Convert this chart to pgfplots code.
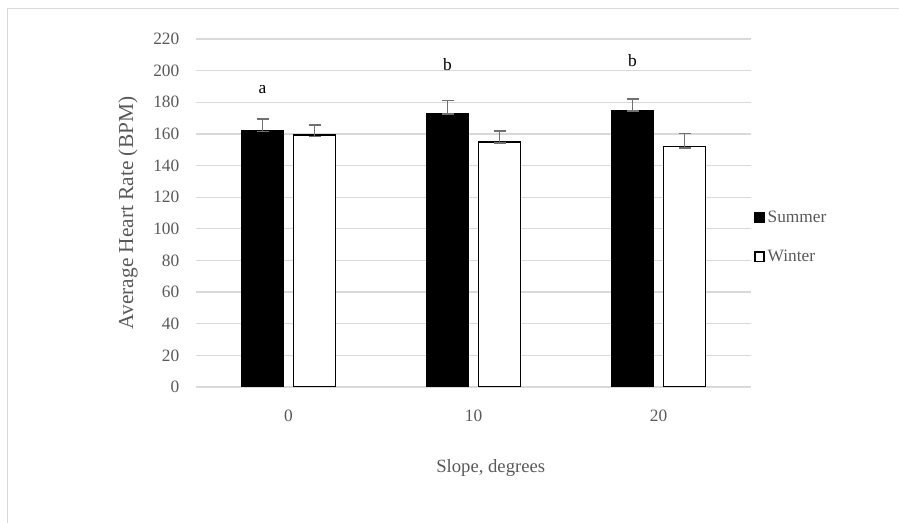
\documentclass[border=0pt]{standalone}
\usepackage{pgfplots}
\pgfplotsset{compat=1.18}
\usepackage{fontspec}
\setmainfont{Liberation Serif}
\definecolor{gridgray}{HTML}{D9D9D9}
\definecolor{txtgray}{HTML}{595959}
\definecolor{errgray}{HTML}{707070}
\begin{document}
\begin{tikzpicture}
\useasboundingbox (0pt,0pt) rectangle (674.25pt,392.25pt);
\begin{scope}
\clip (0pt,0pt) rectangle (674.25pt,392.25pt);
\draw[gridgray, line width=1.2pt] (5.6pt,-20pt) -- (5.6pt,385.9pt) -- (700pt,385.9pt);
\end{scope}
\begin{axis}[
  at={(147pt,102pt)}, anchor=south west,
  scale only axis, width=416.25pt, height=261pt,
  ymin=0, ymax=220, ytick={0,20,...,220},
  xmin=-0.5, xmax=2.5, xtick={0,1,2}, xticklabels={0,10,20},
  axis line style={draw=none}, major tick length=0pt,
  ymajorgrids, grid style={gridgray, line width=1pt},
  ticklabel style={font=\fontsize{13}{15}\selectfont, text=txtgray},
  /pgf/number format/assume math mode=true,
  yticklabel style={xshift=-9pt},
  xticklabel style={yshift=-14pt},
  ybar=7.5pt, bar width=31.5pt,
  every axis y label/.style={at={(rel axis cs:0,0.5)}, xshift=-51pt, rotate=90, anchor=center, font=\fontsize{16}{18}\selectfont, text=txtgray},
  every axis x label/.style={at={(rel axis cs:0.531,0)}, yshift=-60.75pt, anchor=center, font=\fontsize{14}{16}\selectfont, text=txtgray},
  ylabel={Average Heart Rate (BPM)},
  xlabel={Slope, degrees},
  legend style={at={(rel axis cs:1.005,0.43)}, anchor=west, draw=none, fill=none, inner xsep=0pt, font=\fontsize{13}{15}\selectfont, text=txtgray, row sep=15pt, legend cell align=left},
  legend image code/.code={\draw[#1, line width=1.2pt] (0pt,-3.5pt) rectangle (7pt,3.5pt);},
  error bars/y dir=both, error bars/y explicit,
  error bars/error bar style={errgray, line width=1.1pt},
  error bars/error mark options={rotate=90, errgray, mark size=4.5pt, line width=1.1pt},
]
\addplot[fill=black, draw=black] coordinates {(0,162) += (0,7.5) -= (0,0.6) (1,173.2) += (0,8) -= (0,0.6) (2,175) += (0,7) -= (0,0.6)};
\addplot[fill=white, draw=black, line width=1.2pt] coordinates {(0,159.3) += (0,6.2) -= (0,0.8) (1,155) += (0,6.9) -= (0,0.8) (2,152) += (0,8.3) -= (0,0.9)};
\legend{Summer, Winter}
\node[font=\fontsize{13}{15}\selectfont] at (axis cs:0,188) [xshift=-19.5pt] {a};
\node[font=\fontsize{13}{15}\selectfont] at (axis cs:1,204) [xshift=-19.5pt] {b};
\node[font=\fontsize{13}{15}\selectfont] at (axis cs:2,206.5) [xshift=-19.5pt] {b};
\end{axis}
\end{tikzpicture}
\end{document}
